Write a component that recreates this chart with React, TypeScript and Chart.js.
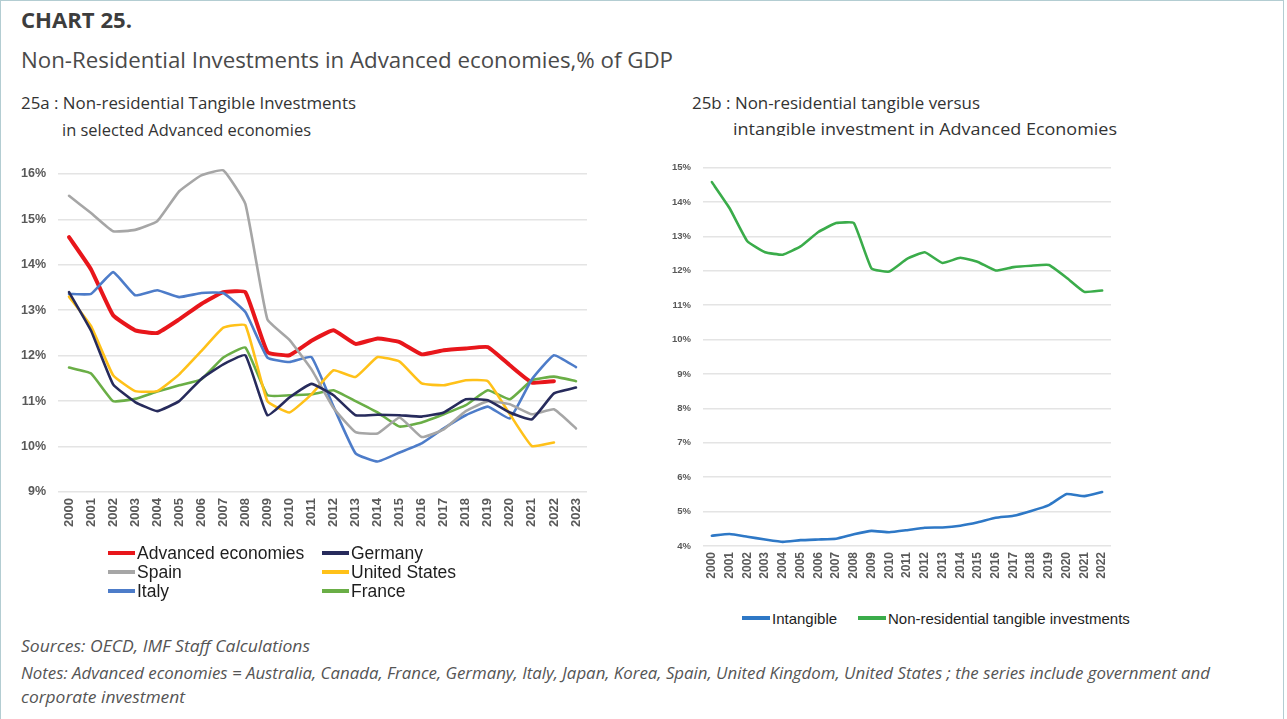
import React, { useEffect, useRef } from "react";
import { Chart, registerables } from "chart.js";
Chart.register(...registerables);

// ---------- DATA ----------
const yearsA = ["2000","2001","2002","2003","2004","2005","2006","2007","2008","2009","2010","2011","2012","2013","2014","2015","2016","2017","2018","2019","2020","2021","2022","2023"];
const advancedEconomies = [14.61,13.90,12.89,12.56,12.50,12.80,13.14,13.40,13.40,12.08,12.01,12.33,12.56,12.26,12.38,12.30,12.03,12.12,12.16,12.19,11.79,11.41,11.44,null];
const germany = [13.40,12.55,11.37,10.98,10.78,11.00,11.49,11.81,12.01,10.69,11.08,11.38,11.13,10.69,10.70,10.69,10.66,10.75,11.04,11.02,10.75,10.60,11.17,11.30];
const spain = [15.52,15.14,14.74,14.77,14.96,15.62,15.97,16.08,15.34,12.80,12.35,11.70,10.85,10.32,10.29,10.64,10.21,10.38,10.78,11.00,10.93,10.71,10.82,10.40];
const unitedStates = [13.30,12.65,11.57,11.22,11.22,11.59,12.10,12.62,12.67,11.00,10.75,11.15,11.68,11.53,11.97,11.87,11.39,11.35,11.46,11.44,10.71,10.01,10.09,null];
const italy = [13.36,13.36,13.84,13.33,13.44,13.29,13.38,13.38,12.96,11.96,11.86,11.97,10.88,9.85,9.67,9.87,10.07,10.40,10.69,10.88,10.62,11.48,12.01,11.75];
const france = [11.74,11.61,11.00,11.05,11.21,11.35,11.48,11.96,12.18,11.13,11.13,11.15,11.24,11.00,10.75,10.44,10.53,10.71,10.91,11.24,11.04,11.46,11.54,11.44];
const yTicksA = [9, 10, 11, 12, 13, 14, 15, 16];

const yearsB = ["2000","2001","2002","2003","2004","2005","2006","2007","2008","2009","2010","2011","2012","2013","2014","2015","2016","2017","2018","2019","2020","2021","2022"];
const intangible = [4.30,4.35,4.27,4.19,4.12,4.17,4.19,4.21,4.34,4.44,4.40,4.46,4.53,4.54,4.59,4.69,4.82,4.88,5.02,5.19,5.51,5.45,5.57];
const tangible = [14.58,13.82,12.86,12.54,12.47,12.71,13.13,13.39,13.39,12.07,11.98,12.35,12.54,12.23,12.38,12.26,12.01,12.11,12.15,12.17,11.80,11.39,11.43];
const yTicksB = [4, 5, 6, 7, 8, 9, 10, 11, 12, 13, 14, 15];

const seriesNamesA = ["Advanced economies", "Germany", "Spain", "United States", "Italy", "France"];
const seriesNamesB = ["Intangible", "Non-residential tangible investments"];

// ---------- STYLE ----------
const colorsA = ["#e8161b", "#272b5c", "#a6a6a6", "#ffc119", "#4d7cc9", "#6aae46"];
const widthsA = [4, 2.6, 2.6, 2.6, 2.6, 2.6];
const colorsB = ["#2e78c6", "#3aac4a"];

const TICK_COLOR = "#595959";
const GRID_COLOR = "#e4e4e4";
const ARIAL = "'Liberation Sans', Arial, sans-serif";

let measureCtx: CanvasRenderingContext2D | null = null;
function measure(text: string, font: string): number {
  if (!measureCtx) measureCtx = document.createElement("canvas").getContext("2d");
  measureCtx!.font = font;
  return measureCtx!.measureText(text).width;
}

function FitText(props: {
  text: string; x: number; y: number; width: number; size: number;
  weight?: number; italic?: boolean; color: string; family: string;
}) {
  const { text, x, y, width, size, weight = 400, italic = false, color, family } = props;
  const font = `${italic ? "italic " : ""}${weight} ${size}px ${family}`;
  const natural = measure(text, font) || width;
  const sx = width / natural;
  const lh = Math.round(size * 1.2);
  return (
    <div
      style={{
        position: "absolute", left: x, top: y - lh / 2, height: lh, lineHeight: `${lh}px`,
        fontFamily: family, fontSize: size, fontWeight: weight, fontStyle: italic ? "italic" : "normal",
        color, whiteSpace: "nowrap", transform: `scaleX(${sx})`, transformOrigin: "left center",
      }}
    >
      {text}
    </div>
  );
}

function LineChart(props: {
  left: number; top: number; width: number; height: number;
  labels: string[]; datasets: any[]; yMin: number; yMax: number; yTicks: number[];
  padLeftAxis: number; padRight: number; padTop: number; xAxisHeight: number;
  yFont: number; xFont: number; tension: number;
}) {
  const ref = useRef<HTMLCanvasElement>(null);
  useEffect(() => {
    if (!ref.current) return;
    const chart = new Chart(ref.current, {
      type: "line",
      data: { labels: props.labels, datasets: props.datasets },
      options: {
        animation: false,
        responsive: false,
        maintainAspectRatio: false,
        layout: { padding: { left: 0, right: props.padRight, top: props.padTop, bottom: 0 } },
        elements: {
          point: { radius: 0, hoverRadius: 0 },
          line: { tension: props.tension, borderCapStyle: "round", borderJoinStyle: "round" },
        },
        plugins: { legend: { display: false }, tooltip: { enabled: false } },
        scales: {
          x: {
            type: "category",
            offset: true,
            grid: { display: false, drawTicks: false },
            border: { display: false },
            ticks: {
              autoSkip: false, maxRotation: 90, minRotation: 90, padding: 6,
              color: TICK_COLOR, font: { family: ARIAL, size: props.xFont, weight: "bold" },
            },
            afterFit: (s: any) => { s.height = props.xAxisHeight; },
          },
          y: {
            min: props.yMin, max: props.yMax,
            afterBuildTicks: (s: any) => { s.ticks = props.yTicks.map((v) => ({ value: v })); },
            grid: { color: GRID_COLOR, lineWidth: 1.6, drawTicks: false },
            border: { display: false },
            ticks: {
              padding: 12, color: TICK_COLOR,
              font: { family: ARIAL, size: props.yFont, weight: "bold" },
              callback: (v: any) => `${v}%`,
            },
            afterFit: (s: any) => { s.width = props.padLeftAxis; },
          },
        },
      } as any,
    });
    return () => chart.destroy();
  }, []);
  return (
    <canvas
      ref={ref}
      width={props.width}
      height={props.height}
      style={{ position: "absolute", left: props.left, top: props.top, width: props.width, height: props.height }}
    />
  );
}

function LegendItem(props: { x: number; y: number; color: string; label: string; size: number; sample: number }) {
  return (
    <div style={{ position: "absolute", left: props.x, top: props.y - 12, height: 24, display: "flex", alignItems: "center", whiteSpace: "nowrap" }}>
      <div style={{ width: props.sample, height: 3.5, background: props.color, marginRight: 2 }} />
      <span style={{ fontFamily: ARIAL, fontSize: props.size, color: "#1e1e1e" }}>{props.label}</span>
    </div>
  );
}

export default function App() {
  const seriesA = [advancedEconomies, germany, spain, unitedStates, italy, france];
  const datasetsA = seriesNamesA.map((name, i) => ({
    label: name, data: seriesA[i], borderColor: colorsA[i], backgroundColor: colorsA[i],
    borderWidth: widthsA[i], fill: false, spanGaps: false, clip: 12,
  }));
  // draw order: put Advanced economies on top
  const orderedA = [...datasetsA.slice(1), datasetsA[0]];

  const seriesB = [intangible, tangible];
  const datasetsB = seriesNamesB.map((name, i) => ({
    label: name, data: seriesB[i], borderColor: colorsB[i], backgroundColor: colorsB[i],
    borderWidth: 2.6, fill: false, clip: 12,
  }));

  const legendPosA = [
    { x: 108, y: 553 }, { x: 322, y: 553 },
    { x: 108, y: 572 }, { x: 322, y: 572 },
    { x: 108, y: 591 }, { x: 322, y: 591 },
  ];
  const legendPosB = [{ x: 742, y: 618 }, { x: 858, y: 618 }];

  const TITLE_FONT = "'Open Sans', 'Noto Sans', sans-serif";

  return (
    <div style={{ position: "absolute", left: 0, top: 0, width: 1287, height: 719, background: "#ffffff", overflow: "hidden" }}>
      <div style={{ position: "absolute", left: 0, top: 0, width: 1282, height: 740, border: "1.5px solid #b3cdd2" }} />

      <FitText text="CHART 25." x={21} y={20} width={111} size={21} weight={700} color="#3d3d3d" family={TITLE_FONT} />
      <FitText text="Non-Residential Investments in Advanced economies,% of GDP" x={21} y={60} width={652} size={21} color="#4a4a4a" family={TITLE_FONT} />

      <FitText text="25a : Non-residential Tangible Investments" x={21} y={103} width={335} size={17} color="#333333" family={TITLE_FONT} />
      <FitText text="in selected Advanced economies" x={62} y={130} width={249} size={17} color="#333333" family={TITLE_FONT} />

      <FitText text="25b : Non-residential tangible versus" x={692} y={103} width={288} size={17} color="#333333" family={TITLE_FONT} />
      <div style={{ position: "absolute", left: 0, top: 0, width: 1287, height: 136, overflow: "hidden" }}>
        <FitText text="intangible investment in Advanced Economies" x={733} y={129} width={384} size={17} color="#333333" family={TITLE_FONT} />
      </div>

      <LineChart
        left={0} top={150} width={600} height={395}
        labels={yearsA} datasets={orderedA} yMin={9} yMax={16} yTicks={yTicksA}
        padLeftAxis={58} padRight={13} padTop={24} xAxisHeight={53}
        yFont={12.5} xFont={13} tension={0.12}
      />
      {seriesNamesA.map((name, i) => (
        <LegendItem key={name} x={legendPosA[i].x} y={legendPosA[i].y} color={colorsA[i]} label={name} size={17.5} sample={27} />
      ))}

      <LineChart
        left={640} top={150} width={500} height={450}
        labels={yearsB} datasets={datasetsB} yMin={4} yMax={15} yTicks={yTicksB}
        padLeftAxis={63} padRight={29} padTop={16} xAxisHeight={54}
        yFont={9.5} xFont={12} tension={0.12}
      />
      {seriesNamesB.map((name, i) => (
        <LegendItem key={name} x={legendPosB[i].x} y={legendPosB[i].y} color={colorsB[i]} label={name} size={15} sample={28} />
      ))}

      <FitText text="Sources: OECD, IMF Staff Calculations" x={21} y={646} width={289} size={17} italic color="#555555" family={TITLE_FONT} />
      <FitText text="Notes: Advanced economies = Australia, Canada, France, Germany, Italy, Japan, Korea, Spain, United Kingdom, United States ; the series include government and" x={21} y={673} width={1189} size={17} italic color="#555555" family={TITLE_FONT} />
      <FitText text="corporate investment" x={21} y={697} width={164} size={17} italic color="#555555" family={TITLE_FONT} />
    </div>
  );
}
